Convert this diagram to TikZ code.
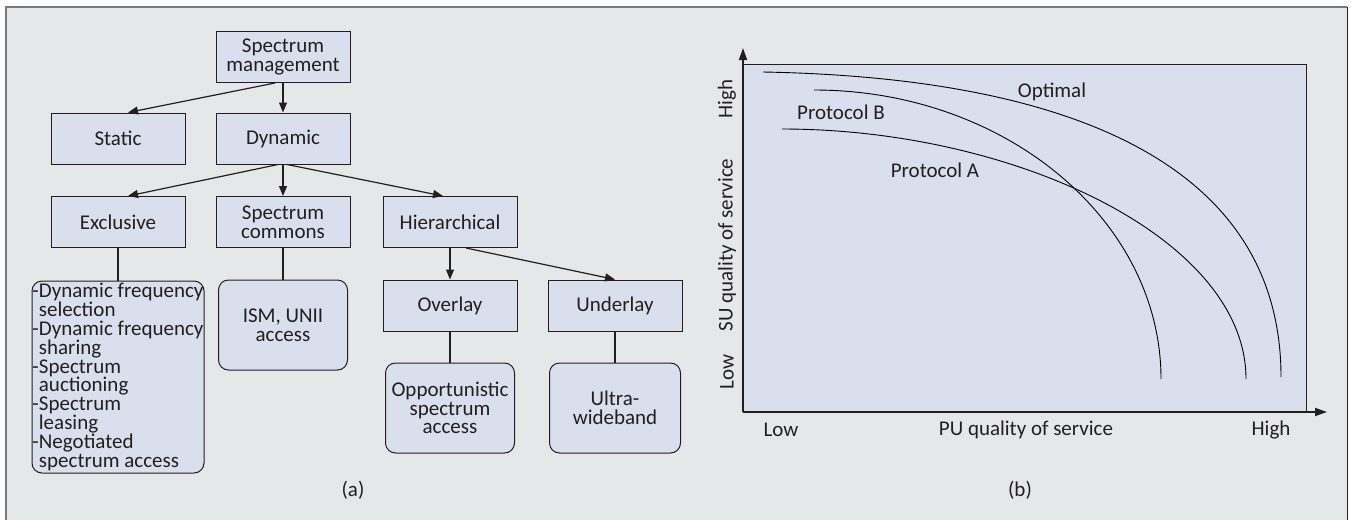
\documentclass[tikz,border=0pt]{standalone}
\usepackage{fontspec}
\setmainfont{Carlito}
\usetikzlibrary{arrows.meta}
\definecolor{bgray}{HTML}{E6E7E9}
\definecolor{boxblue}{HTML}{D9DFEC}
\definecolor{framegray}{HTML}{7A7A7A}
\definecolor{ink}{HTML}{231F20}
\tikzset{
  txt/.style={font=\fontsize{21pt}{18.8pt}\selectfont, text=ink},
  box/.style={txt, draw=ink, line width=1pt, fill=boxblue, inner sep=0pt, align=center, minimum width=134pt, minimum height=51pt},
  rbox/.style={box, rounded corners=10pt},
  arr/.style={draw=ink, line width=1.2pt, -{Triangle[length=10pt,width=8pt]}},
  link/.style={draw=ink, line width=1.2pt},
  curve/.style={draw=black, line width=0.9pt},
  axis/.style={draw=ink, line width=1.6pt, -{Triangle[length=12pt,width=8pt]}}
}
\begin{document}
\begin{tikzpicture}[x=1pt,y=-1pt]
\useasboundingbox (0,0) rectangle (1356,520);
\fill[white] (0,0) rectangle (1356,520);
\fill[bgray] (6,7) rectangle (1347,520);
\draw[framegray, line width=2pt] (6,520) -- (6,7) -- (1347,7);
\draw[ink, line width=1pt] (1347,7) -- (1347,520);

% ---------- (a) ----------
\node[box] (sm) at (283,57) {Spectrum\\management};
\node[box] (st) at (118,138.5) {Static};
\node[box] (dy) at (283,138.5) {Dynamic};
\node[box] (ex) at (118,222) {Exclusive};
\node[box] (co) at (283,222) {Spectrum\\commons};
\node[box] (hi) at (450,222) {Hierarchical};
\node[rbox, align=left, minimum width=172pt, minimum height=192pt] (list) at (118,377)
  {-Dynamic frequency\\\hphantom{-}selection\\-Dynamic frequency\\\hphantom{-}sharing\\-Spectrum\\\hphantom{-}auctioning\\-Spectrum\\\hphantom{-}leasing\\-Negotiated\\\hphantom{-}spectrum access};
\node[rbox, minimum width=129pt, minimum height=90pt] (ism) at (283,325) {ISM, UNII\\access};
\node[box] (ov) at (450,305.5) {Overlay};
\node[box] (un) at (615,305.5) {Underlay};
\node[rbox, minimum width=129pt, minimum height=90pt] (opp) at (450,408) {Opportunistic\\spectrum\\access};
\node[rbox, minimum width=131pt, minimum height=90pt] (uwb) at (615,408) {Ultra-\\wideband};
\node[txt] (la) at (353,490) {(a)};

\draw[arr] ([xshift=-8pt]sm.south) -- ([xshift=10pt]st.north);
\draw[arr] (sm.south) -- (dy.north);
\draw[arr] ([xshift=-5pt]dy.south) -- ([xshift=10pt]ex.north);
\draw[arr] (dy.south) -- (co.north);
\draw[arr] ([xshift=4pt]dy.south) -- ([xshift=-7pt]hi.north);
\draw[link] (ex.south) -- (list.north);
\draw[link] (co.south) -- (ism.north);
\draw[arr] (hi.south) -- (ov.north);
\draw[arr] ([xshift=16pt]hi.south) -- (un.north);
\draw[link] (ov.south) -- (opp.north);
\draw[link] (un.south) -- (uwb.north);

% ---------- (b) ----------
\draw[fill=boxblue, draw=ink, line width=1pt] (743,64) rectangle (1306,412);
\coordinate (o) at (743,412);
\coordinate (ytip) at (743,48);
\coordinate (xtip) at (1327,412);
\draw[axis] (o) -- (ytip);
\draw[axis] (o) -- (xtip);

\draw[curve] (763,72) .. controls (1090,78) and (1281,175) .. (1281,377);
\draw[curve] (814,90) .. controls (1005,90) and (1161,220) .. (1161,379);
\draw[curve] (782,129) .. controls (1014,129) and (1246,238) .. (1246,379);

\node[txt] (lopt) at (1052,92) {Optimal};
\node[txt] (lpb) at (841,112) {Protocol B};
\node[txt] (lpa) at (935,170) {Protocol A};

\node[txt, rotate=90] (yh) at (727,99) {High};
\node[txt, rotate=90] (yl) at (727,372) {Low};
\node[txt, rotate=90] (yt) at (727,245) {SU quality of service};
\node[txt] (xl) at (781,430) {Low};
\node[txt] (xt) at (1026,430) {PU quality of service};
\node[txt] (xh) at (1271,430) {High};
\node[txt] (lb) at (1020,490) {(b)};
\end{tikzpicture}
\end{document}
